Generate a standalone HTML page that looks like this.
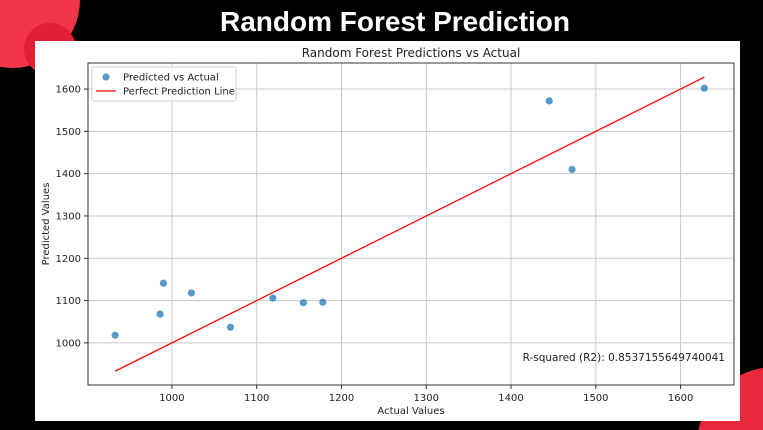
<!DOCTYPE html>
<html><head><meta charset="utf-8"><style>
html,body{margin:0;padding:0;background:#000;width:763px;height:430px;overflow:hidden}
body{position:relative;font-family:"DejaVu Sans","Liberation Sans",sans-serif}
svg{display:block}
</style></head><body>
<svg width="763" height="430" style="position:absolute;left:0;top:0">
<rect width="763" height="430" fill="#000"/>
<path d="M0,0 L80,0 A68,68 0 0 1 0,66.9 Z" fill="#f2364a"/>
<circle cx="50" cy="49" r="26" fill="#e01e34"/>
<path d="M698.5,430 A78,78 0 0 1 763,367.9 L763,430 Z" fill="#e8283c"/>
<text x="395" y="31" text-anchor="middle" fill="#fff" font-family="Liberation Sans, sans-serif" font-weight="bold" font-size="28">Random Forest Prediction</text>
<rect x="35" y="41" width="705" height="380" fill="#fff"/>
<g id="plot"></g>
</svg>
<script>
const actual=[933,986,990,1023,1069,1119,1155,1178,1445,1472,1628];
const predicted=[1018,1068,1141,1118,1037,1106,1095,1096,1572,1410,1602];
const xTicks=[1000,1100,1200,1300,1400,1500,1600];
const yTicks=[1000,1100,1200,1300,1400,1500,1600];
const L=88,R=734,T=63,B=385,x0=901,x1=1663,y0=900.4,y1=1661.6;
const sx=v=>L+(v-x0)/(x1-x0)*(R-L), sy=v=>B-(v-y0)/(y1-y0)*(B-T);
const NS='http://www.w3.org/2000/svg',g=document.getElementById('plot');
function mk(t,a,txt){const e=document.createElementNS(NS,t);for(const k in a)e.setAttribute(k,a[k]);if(txt!=null)e.textContent=txt;g.appendChild(e);return e;}
xTicks.forEach(v=>{const x=sx(v);
const l=mk('line',{x1:x,x2:x,y1:T,y2:B,stroke:'#c8c8c8','stroke-width':1});


mk('line',{x1:x,x2:x,y1:B,y2:B+4,stroke:'#333'});
const t=mk('text',{x:x,y:B+16,'text-anchor':'middle','font-size':10,fill:'#222'},v);

});
yTicks.forEach(v=>{const y=sy(v);
const l=mk('line',{x1:L,x2:R,y1:y,y2:y,stroke:'#c8c8c8','stroke-width':1});


mk('line',{x1:L-4,x2:L,y1:y,y2:y,stroke:'#333'});
const t=mk('text',{x:L-7,y:y+3.5,'text-anchor':'end','font-size':10,fill:'#222'},v);

});
const ax=mk('rect',{x:L,y:T,width:R-L,height:B-T,fill:'none',stroke:'#333','stroke-width':1});


actual.forEach((v,i)=>{const c=mk('circle',{cx:sx(v),cy:sy(predicted[i]),r:3.6,fill:'#1f77b4','fill-opacity':0.75});

});
const mn=Math.min(...actual),mx=Math.max(...actual);
const ln=mk('line',{x1:sx(mn),y1:sy(mn),x2:sx(mx),y2:sy(mx),stroke:'red','stroke-width':1.3});


const tt=mk('text',{x:(L+R)/2,y:T-6,'text-anchor':'middle','font-size':12,fill:'#222'},'Random Forest Predictions vs Actual');


const xl=mk('text',{x:(L+R)/2,y:B+29,'text-anchor':'middle','font-size':10,fill:'#222'},'Actual Values');


const yl=mk('text',{x:0,y:0,'text-anchor':'middle','font-size':10,fill:'#222',transform:`translate(49,${(T+B)/2}) rotate(-90)`},'Predicted Values');


const lg=mk('rect',{x:92,y:67,width:144,height:34,fill:'#fff','fill-opacity':0.8,stroke:'#ccc',rx:2});


const lc=mk('circle',{cx:106,cy:77,r:3.6,fill:'#1f77b4','fill-opacity':0.75});


const le1=mk('text',{x:123,y:80.5,'font-size':10,fill:'#222'},'Predicted vs Actual');


const ll=mk('line',{x1:96,x2:116,y1:91,y2:91,stroke:'red','stroke-width':1.3});


const le2=mk('text',{x:123,y:94.5,'font-size':10,fill:'#222'},'Perfect Prediction Line');


const r2=mk('text',{x:725,y:361,'text-anchor':'end','font-size':10.5,fill:'#222'},'R-squared (R2): 0.8537155649740041');


</script>
</body></html>
